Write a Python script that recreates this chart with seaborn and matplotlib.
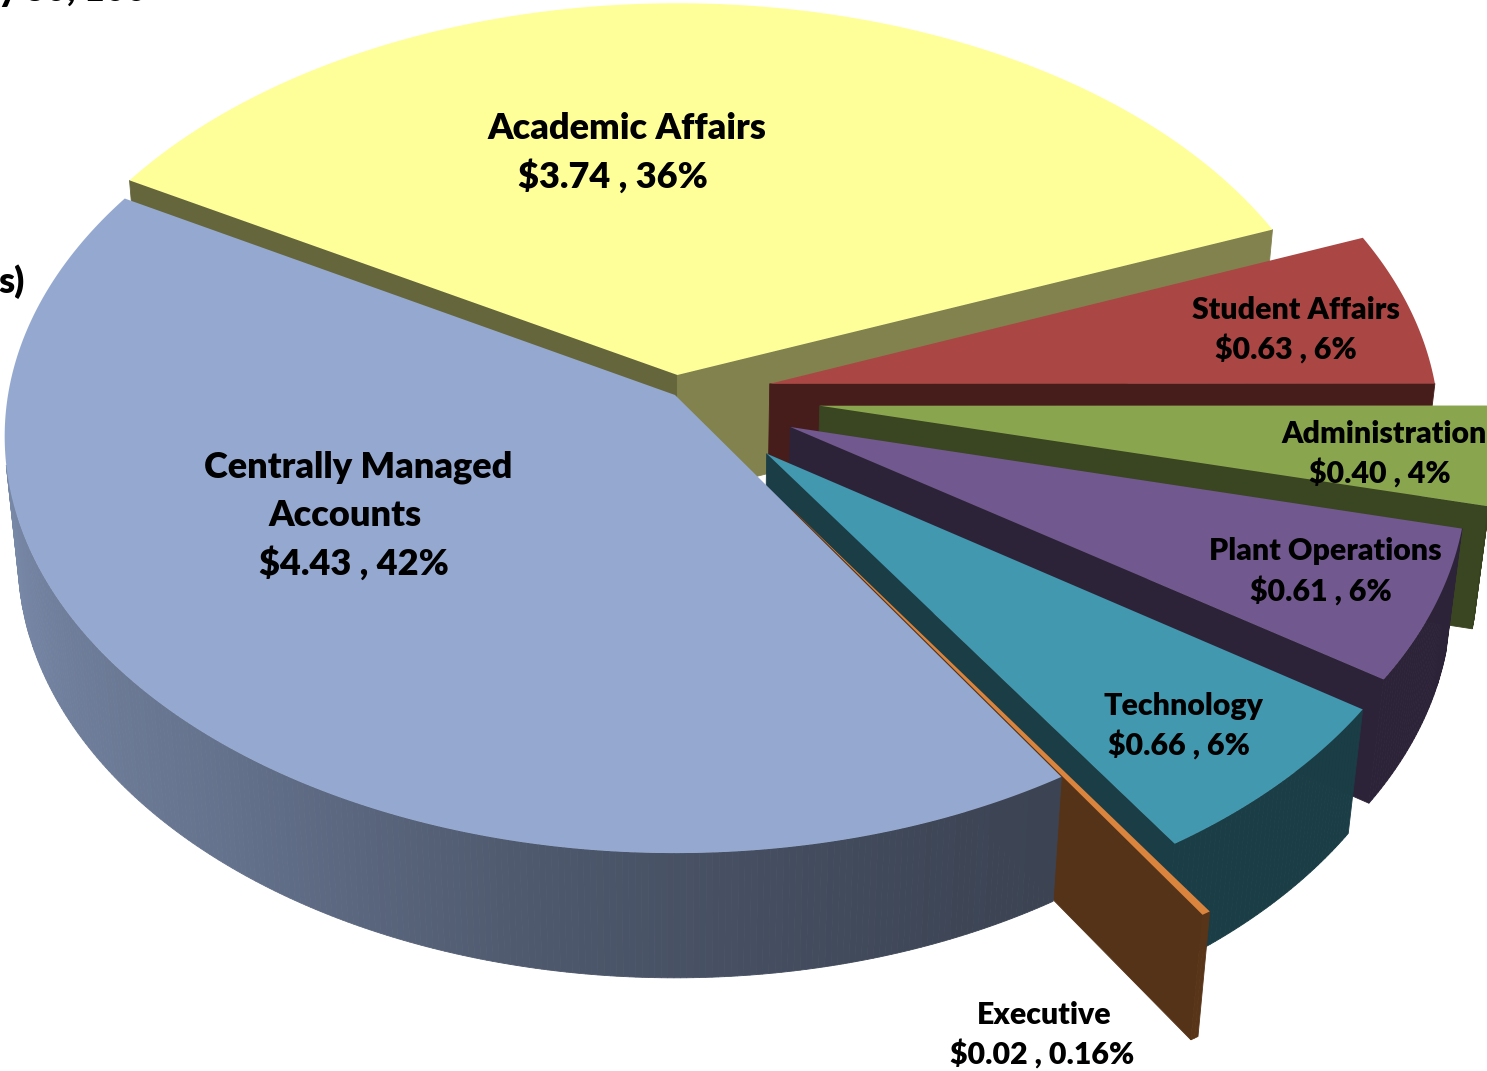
import numpy as np
import seaborn as sns
import matplotlib.pyplot as plt

names = ["Academic Affairs", "Student Affairs", "Administration", "Plant Operations",
         "Technology", "Executive", "Centrally Managed\nAccounts"]
values = [3.74, 0.63, 0.40, 0.61, 0.66, 0.02, 4.43]
percents = ["36%", "6%", "4%", "6%", "6%", "0.16%", "42%"]

sns.set_theme(style="white")
plt.rcParams["font.family"] = ["Lato", "DejaVu Sans"]

colors = sns.color_palette(["#FFFF99", "#AA4643", "#89A54E", "#71588F", "#4198AF", "#DB843D", "#95A9D0"])
explode = [0.049, 0.145, 0.218, 0.188, 0.195, 0.322, 0.0]
start_shade = [0.40, 0.42, 0.42, 0.40, 0.40, 0.39, 0.40]
end_shade = [0.51, 0.42, 0.42, 0.40, 0.40, 0.39, 0.40]

# camera settings for the tilted pie
cx, cy = 675, 395
a, b = 667, 412.5
k, m = 0.0995, 0.02
h = 124


def project(u, v, z):
    w = 1 - k * v + m * z
    return cx + a * u / w, cy + (b * v + h * z) / w


def shade(col, f):
    return tuple(c * f for c in col)


def area(pts):
    xs, ys = zip(*pts)
    return 0.5 * sum(xs[i] * ys[(i + 1) % len(xs)] - xs[(i + 1) % len(xs)] * ys[i] for i in range(len(xs)))


fig = plt.figure(figsize=(14.87, 10.71), dpi=100)
ax = fig.add_axes([0, 0, 1, 1])

fracs = np.array(values) / sum(values)
theta0 = 210.0
for i in range(len(values)):
    sweep = 360 * fracs[i]
    mid = np.radians(theta0 + sweep / 2)
    ox, oy = explode[i] * np.cos(mid), explode[i] * np.sin(mid)
    angles = np.linspace(theta0, theta0 + sweep, max(3, int(sweep) * 2))
    rim_u = ox + np.cos(np.radians(angles))
    rim_v = oy + np.sin(np.radians(angles))
    col = colors[i]

    apex_top = project(ox, oy, 0)
    apex_bot = project(ox, oy, 1)
    top = [project(p, q, 0) for p, q in zip(rim_u, rim_v)]
    bot = [project(p, q, 1) for p, q in zip(rim_u, rim_v)]

    # the two cut faces, drawn only if they look at the camera
    for pts, f in [([apex_top, top[0], bot[0], apex_bot], start_shade[i]),
                   ([top[-1], apex_top, apex_bot, bot[-1]], end_shade[i])]:
        if area(pts) < 0:
            ax.fill(*zip(*pts), color=shade(col, f), lw=0.6)
    # outer rim
    for j in range(len(angles) - 1):
        pts = [top[j], top[j + 1], bot[j + 1], bot[j]]
        if area(pts) < 0:
            t = ((angles[j] + angles[j + 1]) / 2) % 360
            f = np.interp(t, [58, 70, 100, 130, 180, 210], [0.40, 0.42, 0.52, 0.68, 0.84, 0.84])
            ax.fill(*zip(*pts), color=shade(col, f), lw=0.6)
    ax.fill(*zip(*([apex_top] + top)), color=col, lw=0)
    theta0 += sweep

# labels: name lines then value line, placed by hand on each slice
label_pos = [
    ([(627, 139)], (613, 188), 26),
    ([(1296, 319)], (1286, 359), 21.8),
    ([(1384, 443)], (1380, 483), 21.8),
    ([(1325, 560)], (1321, 601), 21.8),
    ([(1183, 715)], (1179, 755), 21.8),
    ([(1044, 1024)], (1042, 1064), 21.8),
    ([(358, 477), (345, 526)], (354, 575), 26),
]
for name, val, pct, (name_xy, val_xy, size) in zip(names, values, percents, label_pos):
    for line, (x, y) in zip(name.split("\n"), name_xy):
        ax.text(x, y, line, ha="center", va="baseline", fontsize=size, fontweight="heavy", color="black")
    ax.text(val_xy[0], val_xy[1], f"${val:.2f} , {pct}", ha="center", va="baseline",
            fontsize=size, fontweight="heavy", color="black")

# pieces of the title and axis note that run off the picture
ax.text(25, 293, "s)", ha="right", va="baseline", fontsize=26, fontweight="heavy", color="black")
ax.text(-3, 1, "y 30, 100", ha="left", va="baseline", fontsize=26, fontweight="heavy", color="black")

ax.set_xlim(0, 1487)
ax.set_ylim(1071, 0)
ax.axis("off")
fig.savefig("out.png", dpi=100)
